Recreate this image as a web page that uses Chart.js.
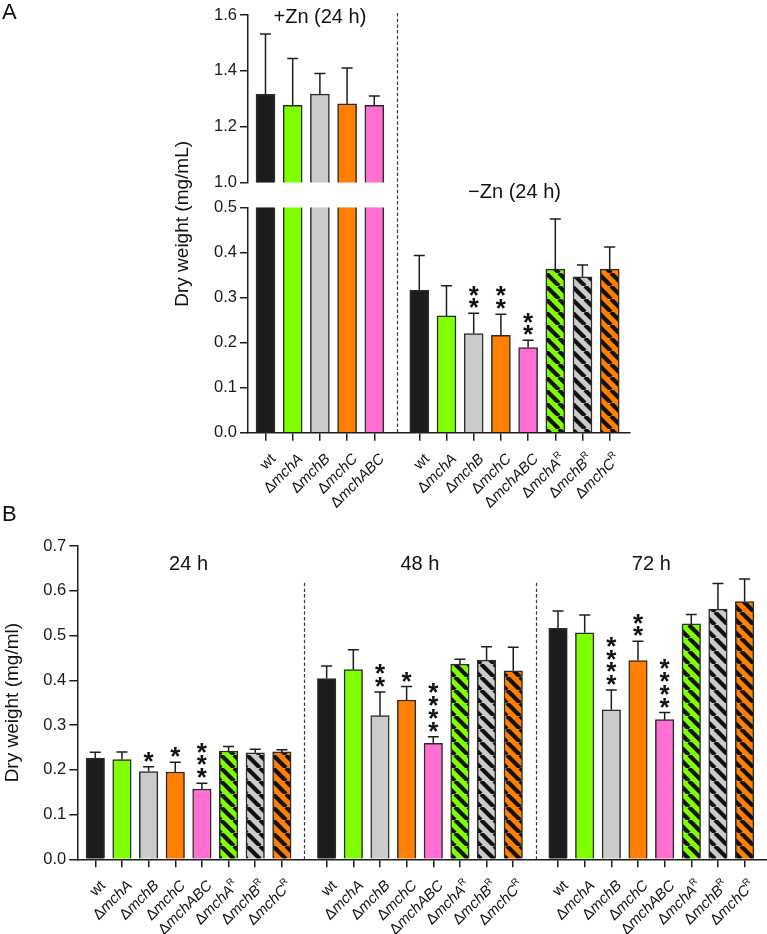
<!DOCTYPE html>
<html>
<head>
<meta charset="utf-8">
<script src="https://cdn.jsdelivr.net/npm/chart.js@4.4.1/dist/chart.umd.min.js"></script>
<style>
html,body{margin:0;padding:0;background:#fff;}
#wrap{position:relative;width:767px;height:934px;overflow:hidden;background:#fff;}
canvas{position:absolute;left:0;}
#cA{top:0;}
#cB{top:495px;}
</style>
</head>
<body>
<div id="wrap">
<canvas id="cA" width="767" height="520"></canvas>
<canvas id="cB" width="767" height="439"></canvas>
</div>
<script>
// ---------------- DATA ----------------
const strains = ['wt', 'ΔmchA', 'ΔmchB', 'ΔmchC', 'ΔmchABC', 'ΔmchA^R', 'ΔmchB^R', 'ΔmchC^R'];
const strainsPlusZn = ['wt', 'ΔmchA', 'ΔmchB', 'ΔmchC', 'ΔmchABC'];
const conditionsA = ['+Zn (24 h)', '−Zn (24 h)'];

const plusZnMean = [1.316, 1.277, 1.317, 1.282, 1.277];
const plusZnSD   = [0.216, 0.167, 0.074, 0.128, 0.033];

const minusZnMean = [0.316, 0.259, 0.220, 0.216, 0.189, 0.363, 0.346, 0.363];
const minusZnSD   = [0.077, 0.067, 0.045, 0.047, 0.016, 0.111, 0.026, 0.049];
const minusZnSig  = ['', '', '**', '**', '**', '', '', ''];

const timesB = ['24 h', '48 h', '72 h'];
const mean24h = [0.226, 0.223, 0.196, 0.195, 0.157, 0.242, 0.238, 0.240];
const sd24h   = [0.013, 0.017, 0.011, 0.022, 0.013, 0.010, 0.008, 0.005];
const sig24h  = ['', '', '*', '*', '***', '', '', ''];
const mean48h = [0.404, 0.424, 0.321, 0.356, 0.259, 0.436, 0.445, 0.421];
const sd48h   = [0.028, 0.044, 0.053, 0.030, 0.015, 0.011, 0.030, 0.053];
const sig48h  = ['', '', '**', '*', '****', '', '', ''];
const mean72h = [0.516, 0.506, 0.334, 0.444, 0.312, 0.526, 0.559, 0.576];
const sd72h   = [0.039, 0.040, 0.044, 0.043, 0.016, 0.021, 0.057, 0.050];
const sig72h  = ['', '', '****', '**', '****', '', '', ''];

const yTicksATop    = [1.0, 1.2, 1.4, 1.6];
const yTicksABottom = [0.0, 0.1, 0.2, 0.3, 0.4, 0.5];
const yTicksB       = [0.0, 0.1, 0.2, 0.3, 0.4, 0.5, 0.6, 0.7];

// ---------------- STYLE / LAYOUT ----------------
const FF = '"Liberation Sans", Arial, Helvetica, sans-serif';
Chart.defaults.font.family = FF;
Chart.defaults.color = '#1a1a1a';
const INK = '#1e1e1e';
const BAR_FILL = ['#1c1c1c', '#7fff00', '#cbcbcb', '#ff7f00', '#ff6fd2', '#7fff00', '#cbcbcb', '#ff7f00'];
const HATCHED  = [false, false, false, false, false, true, true, true];

function hatch(targetCtx, color) {
  const s = 13, c = document.createElement('canvas');
  c.width = s; c.height = s;
  const g = c.getContext('2d');
  g.fillStyle = color; g.fillRect(0, 0, s, s);
  g.strokeStyle = '#111'; g.lineWidth = 4.2;
  g.beginPath();
  for (const k of [-1, 0, 1]) { g.moveTo(k * s, 0); g.lineTo(k * s + s, s); }
  g.stroke();
  return targetCtx.createPattern(c, 'repeat');
}
function fillFor(ctx, i) { return HATCHED[i] ? hatch(ctx, BAR_FILL[i]) : BAR_FILL[i]; }

function drawLabel(ctx, label, x, y) {
  let main = label, sup = '';
  if (label.includes('^')) { [main, sup] = label.split('^'); }
  const parts = [];
  const fs = 15;
  if (main.startsWith('Δ')) {
    parts.push({ t: 'Δ', f: `${fs}px ${FF}` });
    parts.push({ t: main.slice(1), f: `italic ${fs}px ${FF}` });
  } else parts.push({ t: main, f: `${fs}px ${FF}` });
  if (sup) parts.push({ t: sup, f: `9.5px ${FF}`, dy: -5 });
  let total = 0;
  parts.forEach(p => { ctx.font = p.f; p.w = ctx.measureText(p.t).width; total += p.w; });
  ctx.save();
  ctx.translate(x, y);
  ctx.rotate(-Math.PI / 4);
  ctx.textAlign = 'left'; ctx.textBaseline = 'middle';
  let cx = -total;
  parts.forEach(p => { ctx.font = p.f; ctx.fillText(p.t, cx, p.dy || 0); cx += p.w; });
  ctx.restore();
}

const errPlugin = {
  id: 'err',
  afterDatasetsDraw(chart) {
    const ctx = chart.ctx;
    chart.data.datasets.forEach((ds, di) => {
      if (!ds.errors) return;
      const meta = chart.getDatasetMeta(di);
      const ys = chart.scales[meta.yAxisID];
      meta.data.forEach((bar, i) => {
        const e = ds.errors[i];
        if (e == null) return;
        const raw = ds.data[i].y;
        const top = Array.isArray(raw) ? raw[1] : raw;
        const yT = ys.getPixelForValue(top), yE = ys.getPixelForValue(top + e);
        ctx.save();
        ctx.strokeStyle = INK; ctx.lineWidth = 1.5;
        ctx.beginPath();
        ctx.moveTo(bar.x, yT); ctx.lineTo(bar.x, yE);
        ctx.moveTo(bar.x - 5.5, yE); ctx.lineTo(bar.x + 5.5, yE);
        ctx.stroke();
        const s = ds.sig && ds.sig[i];
        if (s) {
          const fs = 26;
          ctx.fillStyle = '#111'; ctx.font = `bold ${fs}px ${FF}`;
          ctx.textAlign = 'center'; ctx.textBaseline = 'alphabetic';
          for (let k = 0; k < s.length; k++) {
            const cy = yE - 12 - k * 12.8;
            ctx.fillText(s[k], bar.x, cy + 0.58 * fs);
          }
        }
        ctx.restore();
      });
    });
  }
};

const decoPlugin = {
  id: 'deco',
  afterDraw(chart, args, o) {
    const { ctx, chartArea } = chart;
    const xs = chart.scales.x;
    ctx.save();
    ctx.strokeStyle = '#3a3a3a'; ctx.lineWidth = 1.2; ctx.setLineDash([3.5, 2.2]);
    o.separators.forEach(v => {
      const px = Math.round(xs.getPixelForValue(v)) + 0.5;
      ctx.beginPath(); ctx.moveTo(px, o.sepTop); ctx.lineTo(px, chartArea.bottom); ctx.stroke();
    });
    ctx.setLineDash([]);
    ctx.fillStyle = '#111';
    ctx.font = `20px ${FF}`; ctx.textAlign = 'center'; ctx.textBaseline = 'middle';
    o.titles.forEach(t => ctx.fillText(t.text, xs.getPixelForValue(t.at), t.y));
    ctx.save();
    ctx.translate(o.yTitleX, (chartArea.top + chartArea.bottom) / 2);
    ctx.rotate(-Math.PI / 2);
    ctx.font = `19px ${FF}`;
    ctx.fillText(o.yTitle, 0, 0);
    ctx.restore();
    ctx.font = `22px ${FF}`; ctx.textAlign = 'left';
    ctx.fillText(o.letter, o.letterX, o.letterY);
    o.xLabels.forEach(l => drawLabel(ctx, l.text, xs.getPixelForValue(l.at) + 8, chartArea.bottom + 24));
    ctx.restore();
  }
};

function yAxis(ticksArr, extra) {
  return Object.assign({
    type: 'linear', position: 'left',
    min: ticksArr[0], max: ticksArr[ticksArr.length - 1],
    afterBuildTicks: s => { s.ticks = ticksArr.map(v => ({ value: v })); },
    ticks: { font: { size: 16.5 }, color: '#1a1a1a', padding: 3, callback: v => Number(v).toFixed(1) },
    grid: { display: true, drawOnChartArea: false, drawTicks: true, tickLength: 8, color: INK, lineWidth: 1.5 },
    border: { display: true, color: INK, width: 1.5 },
    afterFit: s => { s.width = 60; }
  }, extra);
}
function xAxis(positions, min, max) {
  return {
    type: 'linear', position: 'bottom', min, max, offset: false,
    afterBuildTicks: s => { s.ticks = positions.map(v => ({ value: v })); },
    ticks: { display: false },
    grid: { display: true, offset: false, drawOnChartArea: false, drawTicks: true, tickLength: 8, color: INK, lineWidth: 1.5 },
    border: { display: true, color: INK, width: 1.5 },
    afterFit: s => { s.height = 70; }
  };
}

// ---------------- PANEL A ----------------
(function () {
  const ctx = document.getElementById('cA').getContext('2d');
  const GAP = 1.654, EDGE_L = 0.643, EDGE_R = 0.746;
  const BREAK_LO = yTicksABottom[yTicksABottom.length - 1];
  const BREAK_HI = yTicksATop[0];
  const n1 = plusZnMean.length;
  const x1 = plusZnMean.map((_, i) => i);
  const x2 = minusZnMean.map((_, j) => (n1 - 1) + GAP + j);
  const allX = x1.concat(x2);

  const topDs = {
    yAxisID: 'yTop',
    data: x1.map((x, i) => ({ x, y: [BREAK_HI, plusZnMean[i]] })),
    backgroundColor: x1.map((_, i) => fillFor(ctx, i)),
    borderColor: '#2b2b2b', borderWidth: 1.5, barThickness: 19, grouped: false,
    errors: plusZnSD, sig: []
  };
  const botDs = {
    yAxisID: 'yBot',
    data: x1.map((x, i) => ({ x, y: Math.min(plusZnMean[i], BREAK_LO) }))
      .concat(x2.map((x, j) => ({ x, y: minusZnMean[j] }))),
    backgroundColor: x1.map((_, i) => fillFor(ctx, i)).concat(x2.map((_, j) => fillFor(ctx, j))),
    borderColor: '#2b2b2b',
    borderWidth: c => c.dataIndex < n1 ? { left: 1.5, right: 1.5, top: 0, bottom: 0 } : 1.5,
    barThickness: 19, grouped: false,
    errors: x1.map(() => null).concat(minusZnSD),
    sig: x1.map(() => '').concat(minusZnSig)
  };

  new Chart(ctx, {
    type: 'bar',
    data: { datasets: [botDs, topDs] },
    plugins: [errPlugin, decoPlugin],
    options: {
      responsive: false, animation: false, devicePixelRatio: 1, events: [],
      layout: { padding: { top: 15, left: 188, right: 137, bottom: 17.3 } },
      plugins: {
        legend: { display: false }, tooltip: { enabled: false },
        deco: {
          separators: [(n1 - 1) + GAP / 2], sepTop: 13,
          titles: [
            { text: conditionsA[0], at: (n1 - 1) / 2, y: 17 },
            { text: conditionsA[1], at: (n1 - 1) + GAP + (minusZnMean.length - 1) / 2, y: 192 }
          ],
          yTitle: 'Dry weight (mg/mL)', yTitleX: 183,
          letter: 'A', letterX: 2, letterY: 13,
          xLabels: strainsPlusZn.map((t, i) => ({ text: t, at: x1[i] }))
            .concat(strains.map((t, j) => ({ text: t, at: x2[j] })))
        }
      },
      scales: {
        x: xAxis(allX, -EDGE_L, x2[x2.length - 1] + EDGE_R),
        yTop: yAxis(yTicksATop, { stack: 'A', stackWeight: 167.7, weight: 3 }),
        yGap: { type: 'linear', position: 'left', display: false, stack: 'A', stackWeight: 24.6, weight: 2, afterFit: s => { s.width = 0; } },
        yBot: yAxis(yTicksABottom, { stack: 'A', stackWeight: 225.4, weight: 1 })
      }
    }
  });
})();

// ---------------- PANEL B ----------------
(function () {
  const ctx = document.getElementById('cB').getContext('2d');
  const GAP = 1.68, EDGE_L = 0.675, EDGE_R = 0.84;
  const means = [mean24h, mean48h, mean72h];
  const sds = [sd24h, sd48h, sd72h];
  const sigs = [sig24h, sig48h, sig72h];
  const stride = (strains.length - 1) + GAP;
  const xs = [], data = [], bg = [], errs = [], sg = [], labels = [];
  means.forEach((m, g) => {
    m.forEach((v, j) => {
      const x = g * stride + j;
      xs.push(x);
      data.push({ x, y: v });
      bg.push(fillFor(ctx, j));
      errs.push(sds[g][j]);
      sg.push(sigs[g][j]);
      labels.push({ text: strains[j], at: x });
    });
  });
  new Chart(ctx, {
    type: 'bar',
    data: { datasets: [{
      yAxisID: 'y', data, backgroundColor: bg, borderColor: '#2b2b2b', borderWidth: 1.5,
      barThickness: 18.5, grouped: false, errors: errs, sig: sg
    }] },
    plugins: [errPlugin, decoPlugin],
    options: {
      responsive: false, animation: false, devicePixelRatio: 1, events: [],
      layout: { padding: { top: 51, left: 17.3, right: 0, bottom: 4.7 } },
      plugins: {
        legend: { display: false }, tooltip: { enabled: false },
        deco: {
          separators: [0, 1].map(g => g * stride + (strains.length - 1) + GAP / 2), sepTop: 87.7,
          titles: timesB.map((t, g) => ({ text: t, at: g * stride + (strains.length - 1) / 2, y: 69 })),
          yTitle: 'Dry weight (mg/ml)', yTitleX: 13,
          letter: 'B', letterX: 2, letterY: 20,
          xLabels: labels
        }
      },
      scales: {
        x: xAxis(xs, -EDGE_L, xs[xs.length - 1] + EDGE_R),
        y: yAxis(yTicksB, {})
      }
    }
  });
})();
</script>
</body>
</html>
